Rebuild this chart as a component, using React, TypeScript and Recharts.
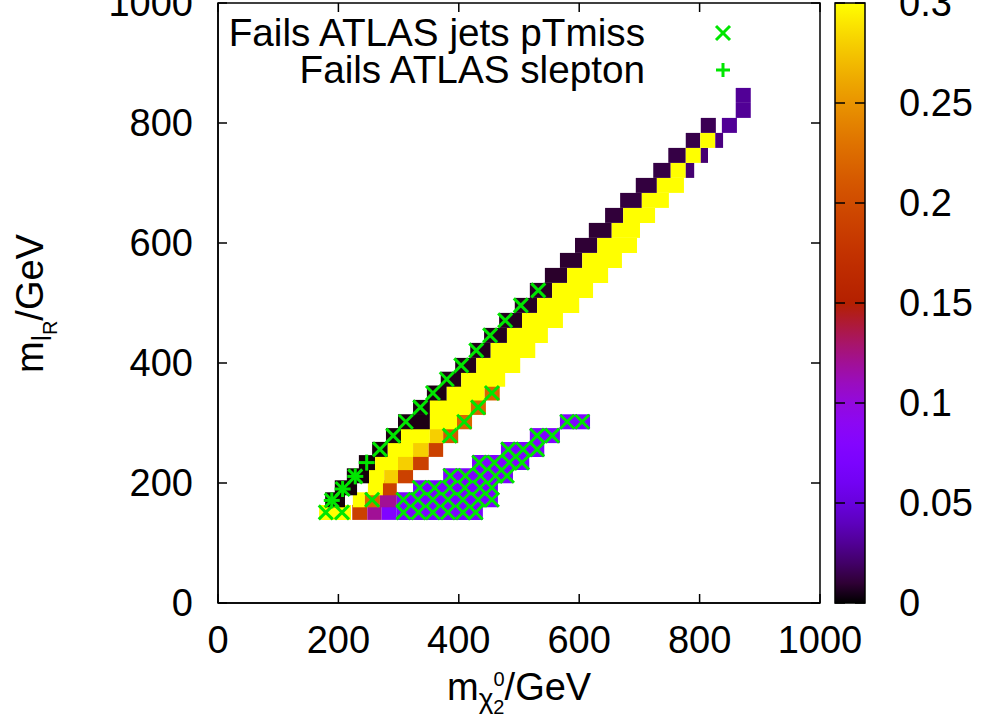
import { ScatterChart, Scatter, XAxis, YAxis, ReferenceArea } from "recharts";

const X_TICKS = [0, 200, 400, 600, 800, 1000];
const Y_TICKS = [0, 200, 400, 600, 800, 1000];
const CB_TICKS = [0, 0.05, 0.1, 0.15, 0.2, 0.25, 0.3];
const CB_LABELS = ["0", "0.05", "0.1", "0.15", "0.2", "0.25", "0.3"];
const Z_MAX = 0.3;

const JETS_NAME = "Fails ATLAS jets pTmiss";
const SLEPTON_NAME = "Fails ATLAS slepton";

// m_lR of each scan row
const ROW_Y = [
  151, 172, 192, 212, 234, 256, 279, 302, 326, 350, 373, 396, 421, 446, 471,
  496, 521, 546, 571, 596, 621, 646, 671, 696, 721, 746, 771, 796, 821, 846,
];

// per row: [mchi2 from, mchi2 to, fraction]
const ROW_CELLS: [number, number, number][][] = [
  [[168, 221, 0.3], [223, 248, 0.19], [248, 272, 0.12], [272, 297, 0.075], [297, 440, 0.072]],
  [[178, 211, 0.002], [224, 244, 0.3], [244, 269, 0.22], [269, 297, 0.12], [297, 465, 0.072]],
  [[194, 231, 0.002], [249, 274, 0.3], [274, 297, 0.19], [324, 465, 0.07]],
  [[214, 251, 0.002], [251, 276, 0.3], [276, 299, 0.28], [299, 324, 0.19], [374, 490, 0.072]],
  [[234, 261, 0.002], [261, 299, 0.3], [299, 324, 0.28], [324, 350, 0.19], [422, 517, 0.075]],
  [[256, 282, 0.003], [282, 324, 0.3], [324, 350, 0.28], [350, 374, 0.19], [470, 542, 0.075]],
  [[279, 304, 0.003], [304, 352, 0.3], [352, 374, 0.28], [374, 399, 0.21], [518, 568, 0.075]],
  [[299, 352, 0.004], [352, 397, 0.3], [397, 422, 0.22], [568, 618, 0.075]],
  [[324, 352, 0.004], [352, 420, 0.3], [420, 445, 0.22]],
  [[347, 380, 0.004], [380, 443, 0.3], [443, 468, 0.22]],
  [[370, 404, 0.005], [404, 477, 0.3]],
  [[394, 429, 0.005], [429, 502, 0.3]],
  [[419, 453, 0.005], [453, 527, 0.3]],
  [[442, 480, 0.006], [480, 548, 0.3]],
  [[467, 505, 0.006], [505, 573, 0.3]],
  [[493, 530, 0.007], [530, 600, 0.3]],
  [[518, 555, 0.007], [555, 623, 0.3]],
  [[543, 580, 0.008], [580, 648, 0.3]],
  [[568, 605, 0.009], [605, 671, 0.3]],
  [[593, 630, 0.01], [630, 696, 0.3]],
  [[616, 654, 0.01], [654, 701, 0.3]],
  [[643, 673, 0.011], [673, 726, 0.3]],
  [[668, 704, 0.012], [704, 749, 0.3]],
  [[694, 729, 0.012], [729, 774, 0.3]],
  [[723, 752, 0.013], [752, 777, 0.3], [777, 791, 0.022]],
  [[748, 777, 0.013], [777, 802, 0.3], [802, 814, 0.022]],
  [[777, 801, 0.014], [801, 826, 0.3], [826, 839, 0.025]],
  [[802, 827, 0.016], [837, 862, 0.03]],
  [[860, 885, 0.03]],
  [[860, 885, 0.03]],
];

// points failing the jets + pTmiss search
const JETS_DIAG: [number, number][] = [
  [179, 151], [206, 151], [189, 171], [207, 190], [228, 211], [269, 256], [291, 279],
  [312, 302], [336, 326], [357, 350], [380, 373], [404, 396], [429, 421], [452, 446],
  [477, 471], [503, 496], [532, 521],
];
const JETS_ORANGE: [number, number][] = [
  [256, 172], [385, 279], [409, 302], [432, 326], [455, 350],
];
const JETS_BAND: [number, number][] = [
  [308, 151], [333, 151], [357, 151], [382, 151], [407, 151], [428, 151],
  [308, 172], [332, 172], [357, 172], [382, 172], [407, 172], [432, 172], [455, 172],
  [335, 192], [360, 192], [385, 192], [410, 192], [435, 192], [455, 192],
  [386, 212], [411, 212], [436, 212], [461, 212], [480, 212],
  [434, 234], [459, 234], [484, 234], [505, 234],
  [482, 256], [507, 256], [530, 256],
  [530, 279], [555, 279],
  [580, 302], [605, 302],
];
// points failing the slepton search
const SLEPTON_PTS: [number, number][] = [
  [189, 171], [207, 190], [228, 211], [247, 234],
];

const FONT = "'Liberation Sans', Arial, sans-serif";
const GREEN = "#00e600";
const HALF_CELL = 12.5;
const TICK_LEN = 9;
const PLOT_W = 602;
const PLOT_H = 600;

function palette(z: number) {
  const g = Math.min(1, Math.max(0, z / Z_MAX));
  const r = Math.sqrt(g);
  const gg = g * g * g;
  const b = Math.max(0, Math.sin(2 * Math.PI * g));
  const h = (v: number) => Math.round(v * 255).toString(16).padStart(2, "0");
  return `#${h(r)}${h(gg)}${h(b)}`;
}

const cells = ROW_Y.flatMap((y, i) =>
  ROW_CELLS[i].map(([x0, x1, z]) => ({ x0, x1, y, z }))
);
const jetsData = [...JETS_DIAG, ...JETS_ORANGE, ...JETS_BAND].map(([x, y]) => ({ x, y }));
const sleptonData = SLEPTON_PTS.map(([x, y]) => ({ x, y }));
const cbData = CB_TICKS.map((v) => ({ x: 0.5, y: v }));

const Cross = (props: any) => {
  const { cx, cy } = props;
  const s = 7;
  return (
    <g stroke={GREEN} strokeWidth={3}>
      <line x1={cx - s} y1={cy - s} x2={cx + s} y2={cy + s} />
      <line x1={cx - s} y1={cy + s} x2={cx + s} y2={cy - s} />
    </g>
  );
};

const Plus = (props: any) => {
  const { cx, cy } = props;
  const s = 8;
  return (
    <g stroke={GREEN} strokeWidth={3}>
      <line x1={cx - s} y1={cy} x2={cx + s} y2={cy} />
      <line x1={cx} y1={cy - s} x2={cx} y2={cy + s} />
    </g>
  );
};

const NoMark = () => <g />;

const XTick = (props: any) => {
  const { x, y, payload } = props;
  return (
    <g>
      <line x1={x} x2={x} y1={y} y2={y - TICK_LEN} stroke="#000" strokeWidth={1.5} />
      <line x1={x} x2={x} y1={y - PLOT_H} y2={y - PLOT_H + TICK_LEN} stroke="#000" strokeWidth={1.5} />
      <text x={x} y={y + 50} textAnchor="middle" fontFamily={FONT} fontSize={38} fill="#000">
        {payload.value}
      </text>
    </g>
  );
};

const YTick = (props: any) => {
  const { x, y, payload } = props;
  const ax = x + 25;
  return (
    <g>
      <line x1={ax} x2={ax + TICK_LEN} y1={y} y2={y} stroke="#000" strokeWidth={1.5} />
      <line x1={ax + PLOT_W - TICK_LEN} x2={ax + PLOT_W} y1={y} y2={y} stroke="#000" strokeWidth={1.5} />
      <text x={x} y={y + 13} textAnchor="end" fontFamily={FONT} fontSize={38} fill="#000">
        {payload.value}
      </text>
    </g>
  );
};

const CbTick = (props: any) => {
  const { x, y, index } = props;
  const right = x - 34;
  const left = right - 30;
  return (
    <g>
      <line x1={right - 10} x2={right} y1={y} y2={y} stroke="#000" strokeWidth={1.5} />
      <line x1={left} x2={left + 10} y1={y} y2={y} stroke="#000" strokeWidth={1.5} />
      <text x={x} y={y + 13} textAnchor="start" fontFamily={FONT} fontSize={38} fill="#000">
        {CB_LABELS[index]}
      </text>
    </g>
  );
};

const gradientStops = Array.from({ length: 31 }, (_, i) => i / 30);

export default function App() {
  return (
    <div style={{ position: "absolute", left: 0, top: 0, width: 992, height: 728, background: "#fff" }}>
      <div style={{ position: "absolute", left: 0, top: 0 }}>
        <ScatterChart width={992} height={728} margin={{ top: 3, right: 172, bottom: 85, left: 158 }}>
          <XAxis
            type="number"
            dataKey="x"
            domain={[0, 1000]}
            ticks={X_TICKS}
            interval={0}
            height={40}
            tickSize={0}
            tickMargin={0}
            tickLine={false}
            axisLine={{ stroke: "#000", strokeWidth: 1.5 }}
            tick={<XTick />}
          />
          <YAxis
            type="number"
            dataKey="y"
            domain={[0, 1000]}
            ticks={Y_TICKS}
            interval={0}
            width={60}
            tickSize={0}
            tickMargin={25}
            tickLine={false}
            axisLine={{ stroke: "#000", strokeWidth: 1.5 }}
            tick={<YTick />}
          />
          {cells.map((c, i) => (
            <ReferenceArea
              key={i}
              x1={c.x0}
              x2={c.x1}
              y1={c.y - HALF_CELL}
              y2={c.y + HALF_CELL}
              fill={palette(c.z)}
              fillOpacity={1}
              stroke="none"
            />
          ))}
          <ReferenceArea x1={0} x2={1000} y1={0} y2={1000} fill="none" stroke="#000" strokeWidth={1.5} />
          <Scatter name={JETS_NAME} data={jetsData} shape={<Cross />} isAnimationActive={false} />
          <Scatter name={SLEPTON_NAME} data={sleptonData} shape={<Plus />} isAnimationActive={false} />
        </ScatterChart>
      </div>
      <div style={{ position: "absolute", left: 0, top: 0 }}>
        <ScatterChart width={992} height={728} margin={{ top: 3, right: 67, bottom: 125, left: 835 }}>
          <defs>
            <linearGradient id="cbGrad" x1="0" y1="1" x2="0" y2="0">
              {gradientStops.map((t) => (
                <stop key={t} offset={t} stopColor={palette(t * Z_MAX)} />
              ))}
            </linearGradient>
          </defs>
          <XAxis type="number" dataKey="x" domain={[0, 1]} hide />
          <YAxis
            type="number"
            dataKey="y"
            orientation="right"
            domain={[0, Z_MAX]}
            ticks={CB_TICKS}
            interval={0}
            width={60}
            tickSize={0}
            tickMargin={34}
            tickLine={false}
            axisLine={false}
            tick={<CbTick />}
          />
          <ReferenceArea x1={0} x2={1} y1={0} y2={Z_MAX} fill="url(#cbGrad)" fillOpacity={1} stroke="#000" strokeWidth={1.5} />
          <Scatter data={cbData} shape={<NoMark />} isAnimationActive={false} />
        </ScatterChart>
      </div>
      <svg width={992} height={728} style={{ position: "absolute", left: 0, top: 0, pointerEvents: "none" }}>
        <g fontFamily={FONT} fill="#000">
          <text x={645} y={46} fontSize={38.7} textAnchor="end">{JETS_NAME}</text>
          <text x={645} y={83} fontSize={38.7} textAnchor="end">{SLEPTON_NAME}</text>
          <text x={447} y={700} fontSize={38}>
            m<tspan fontSize={28} dy={8}>χ</tspan>
            <tspan fontSize={20} dy={6}>2</tspan>
            <tspan fontSize={20} dx={-11} dy={-28}>0</tspan>
            <tspan fontSize={38} dy={14}>/GeV</tspan>
          </text>
          <text transform="translate(43,373) rotate(-90)" fontSize={38}>
            m<tspan fontSize={28} dy={8}>l</tspan>
            <tspan fontSize={20} dy={6}>R</tspan>
            <tspan fontSize={38} dy={-14}>/GeV</tspan>
          </text>
        </g>
        <g stroke={GREEN} strokeWidth={3}>
          <line x1={716} y1={26} x2={730} y2={40} />
          <line x1={716} y1={40} x2={730} y2={26} />
          <line x1={716} y1={70} x2={730} y2={70} />
          <line x1={723} y1={63} x2={723} y2={77} />
        </g>
      </svg>
    </div>
  );
}
